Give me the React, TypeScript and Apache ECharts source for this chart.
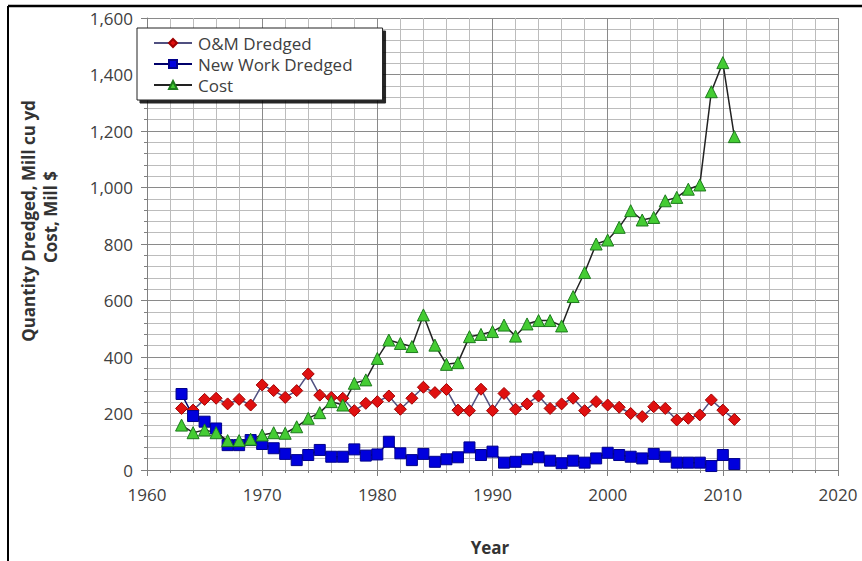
import React, { useEffect, useRef } from "react";
import * as echarts from "echarts";

const years: number[] = [
  1963, 1964, 1965, 1966, 1967, 1968, 1969, 1970, 1971, 1972, 1973, 1974, 1975, 1976, 1977, 1978, 1979,
  1980, 1981, 1982, 1983, 1984, 1985, 1986, 1987, 1988, 1989, 1990, 1991, 1992, 1993, 1994, 1995, 1996,
  1997, 1998, 1999, 2000, 2001, 2002, 2003, 2004, 2005, 2006, 2007, 2008, 2009, 2010, 2011,
];

const omDredged: number[] = [
  218, 212, 250, 254, 234, 250, 230, 301, 281, 257, 281, 340, 265, 257, 254, 210, 236,
  242, 262, 215, 254, 293, 274, 285, 212, 210, 286, 210, 271, 215, 234, 262, 218, 234,
  254, 210, 242, 230, 222, 200, 189, 224, 218, 177, 183, 195, 248, 212, 179,
];

const newWorkDredged: number[] = [
  269, 191, 171, 147, 88, 88, 106, 92, 77, 57, 35, 53, 71, 47, 47, 73, 51,
  55, 100, 59, 35, 57, 29, 38, 45, 80, 53, 65, 26, 29, 38, 45, 33, 24,
  33, 26, 41, 61, 53, 47, 41, 57, 47, 26, 26, 26, 14, 53, 21,
];

const cost: number[] = [
  159, 132, 142, 132, 104, 104, 109, 124, 132, 130, 153, 183, 203, 242, 230, 307, 319,
  395, 460, 448, 437, 549, 442, 374, 380, 472, 480, 490, 513, 474, 517, 529, 529, 510,
  614, 699, 800, 814, 859, 918, 885, 894, 953, 965, 994, 1009, 1339, 1442, 1180,
];

const xTicks = { min: 1960, max: 2020, interval: 10 };
const yTicks = { min: 0, max: 1600, interval: 200 };

const seriesNames = ["O&M Dredged", "New Work Dredged", "Cost"];

const FONT = "'Open Sans', 'Noto Sans', sans-serif";

export default function App() {
  const ref = useRef<HTMLDivElement>(null);

  useEffect(() => {
    if (!ref.current) return;
    const chart = echarts.init(ref.current, undefined, { renderer: "svg" });
    const pair = (vals: number[]) => years.map((y, i) => [y, vals[i]]);

    const axisCommon = {
      axisLine: { show: true, lineStyle: { color: "#808080", width: 1 } },
      axisTick: { show: true, length: 6, lineStyle: { color: "#808080" } },
      minorTick: { show: true, splitNumber: 5, length: 3, lineStyle: { color: "#808080" } },
      splitLine: { show: true, lineStyle: { color: "#8a8a8a", width: 1 } },
      minorSplitLine: { show: true, lineStyle: { color: "#bcbcbc", width: 1 } },
    };

    chart.setOption({
      animation: false,
      backgroundColor: "#ffffff",
      grid: { left: 147, right: 24, top: 18, bottom: 91, containLabel: false },
      xAxis: {
        type: "value",
        min: xTicks.min,
        max: xTicks.max,
        interval: xTicks.interval,
        ...axisCommon,
        axisLabel: {
          margin: 16,
          color: "#404040",
          fontSize: 17,
          fontFamily: FONT,
          formatter: (v: number) => String(v),
        },
      },
      yAxis: {
        type: "value",
        min: yTicks.min,
        max: yTicks.max,
        interval: yTicks.interval,
        ...axisCommon,
        axisLabel: {
          margin: 14,
          color: "#404040",
          fontSize: 17,
          fontFamily: FONT,
          formatter: (v: number) => v.toLocaleString("en-US"),
        },
      },
      legend: {
        data: seriesNames,
        orient: "vertical",
        left: 137,
        top: 28,
        padding: [6, 30, 6, 16],
        itemGap: 3,
        itemWidth: 38,
        itemHeight: 10,
        backgroundColor: "#ffffff",
        borderColor: "#222222",
        borderWidth: 1,
        borderRadius: 0,
        shadowColor: "rgba(0,0,0,0.85)",
        shadowBlur: 1,
        shadowOffsetX: 3,
        shadowOffsetY: 3,
        textStyle: {
          color: "#404040",
          fontSize: 17,
          lineHeight: 18,
          fontFamily: FONT,
          padding: [0, 0, 0, 1],
        },
      },
      graphic: [
        {
          type: "line",
          shape: { x1: 8, y1: 6, x2: 862, y2: 6 },
          style: { stroke: "#000000", lineWidth: 2.5 },
        },
        {
          type: "line",
          shape: { x1: 8, y1: 6, x2: 8, y2: 561 },
          style: { stroke: "#000000", lineWidth: 2 },
        },
        {
          type: "text",
          x: 28,
          y: 221,
          rotation: Math.PI / 2,
          style: {
            text: "Quantity Dredged, Mill cu yd",
            fontSize: 17,
            fontWeight: "bold",
            fontFamily: FONT,
            fill: "#333333",
            textAlign: "center",
            textVerticalAlign: "middle",
          },
        },
        {
          type: "text",
          x: 50,
          y: 217,
          rotation: Math.PI / 2,
          style: {
            text: "Cost, Mill $",
            fontSize: 17,
            fontWeight: "bold",
            fontFamily: FONT,
            fill: "#333333",
            textAlign: "center",
            textVerticalAlign: "middle",
          },
        },
        {
          type: "text",
          x: 490,
          y: 547,
          style: {
            text: "Year",
            fontSize: 17,
            fontWeight: "bold",
            fontFamily: FONT,
            fill: "#333333",
            textAlign: "center",
            textVerticalAlign: "middle",
          },
        },
      ],
      series: [
        {
          name: seriesNames[0],
          type: "line",
          data: pair(omDredged),
          symbol: "diamond",
          symbolSize: 12,
          lineStyle: { color: "#505080", width: 1.5 },
          itemStyle: { color: "#e01010", borderColor: "#a00000", borderWidth: 1 },
        },
        {
          name: seriesNames[1],
          type: "line",
          data: pair(newWorkDredged),
          symbol: "rect",
          symbolSize: 11,
          lineStyle: { color: "#00006a", width: 1.5 },
          itemStyle: { color: "#0000dd", borderColor: "#00008a", borderWidth: 1 },
        },
        {
          name: seriesNames[2],
          type: "line",
          data: pair(cost),
          symbol: "triangle",
          symbolSize: 12,
          lineStyle: { color: "#222222", width: 1.5 },
          itemStyle: { color: "#44cc33", borderColor: "#1d7a1d", borderWidth: 1 },
        },
      ],
    });

    return () => chart.dispose();
  }, []);

  return (
    <div
      ref={ref}
      style={{ position: "fixed", left: 0, top: 0, width: 862, height: 561, background: "#fff" }}
    />
  );
}
